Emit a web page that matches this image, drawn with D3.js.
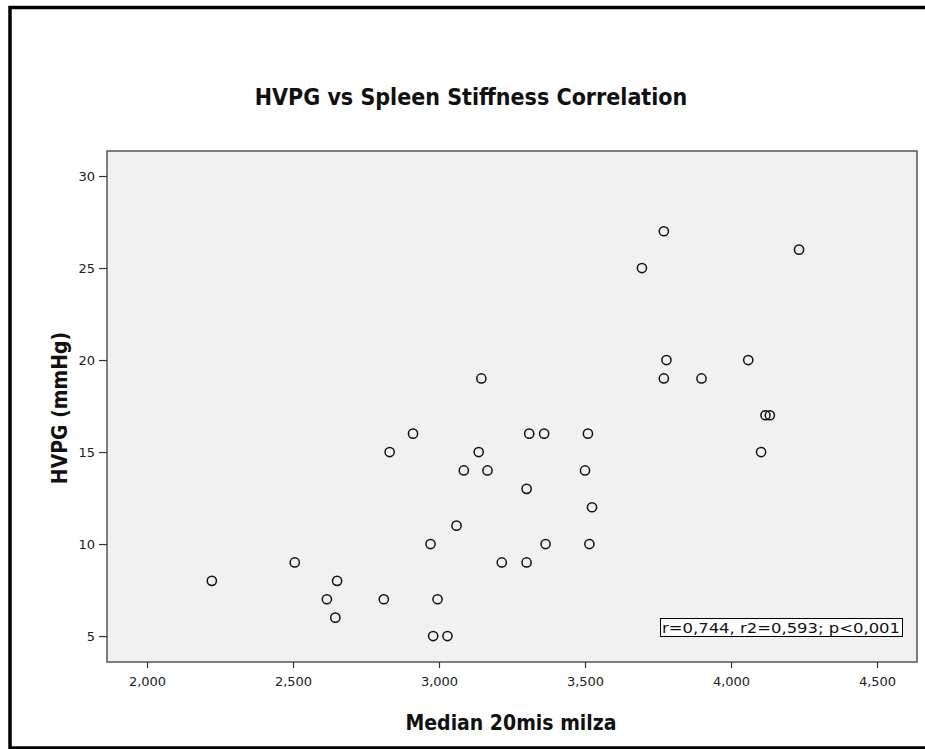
<!DOCTYPE html>
<html>
<head>
<meta charset="utf-8">
<script src="https://cdn.jsdelivr.net/npm/d3@7"></script>
<style>
  html, body { margin: 0; background: #fff; overflow: hidden; }
  svg { display: block; }
</style>
</head>
<body>
<div id="chart"></div>
<script>
// Spleen stiffness (Median 20mis milza) and HVPG (mmHg), one entry per patient
var spleenStiffness = [2222, 2506, 2651, 2616, 2645, 2811, 2831, 2911, 2971, 2995,
    2980, 3029, 3060, 3085, 3136, 3166, 3145, 3215, 3300, 3300,
    3309, 3360, 3365, 3510, 3500, 3524, 3515, 3695, 3770, 3779,
    3770, 3899, 4059, 4118, 4133, 4103, 4233];
var hvpg = [8, 9, 8, 7, 6, 7, 15, 16, 10, 7,
    5, 5, 11, 14, 15, 14, 19, 9, 9, 13,
    16, 16, 10, 16, 14, 12, 10, 25, 27, 20,
    19, 19, 20, 17, 17, 15, 26];

var xTicks = [2000, 2500, 3000, 3500, 4000, 4500];
var yTicks = [5, 10, 15, 20, 25, 30];

var titleText = "HVPG vs Spleen Stiffness Correlation";
var xLabel = "Median 20mis milza";
var yLabel = "HVPG (mmHg)";
var statsText = "r=0,744, r2=0,593; p<0,001";

var chart = {
    w: 925,
    h: 749,
    plot: { left: 107, right: 917, top: 151, bottom: 662 },
    r: 4.6
};

var points = spleenStiffness.map(function (d, i) {
    return { x: d, y: hvpg[i] };
});

var svg = d3.select("#chart")
    .append("svg")
    .attr("width", chart.w)
    .attr("height", chart.h);

// outer frame: left, top and bottom edges only (right edge is cut off)
svg.append("path")
    .attr("d", "M 960 7.5 H 10 V 748 H 960")
    .attr("fill", "none")
    .attr("stroke", "#000")
    .attr("stroke-width", 3.5);

var xScale = d3.scaleLinear()
    .domain([1863, 4637])
    .range([chart.plot.left, chart.plot.right]);

var yScale = d3.scaleLinear()
    .domain([3.59, 31.36])
    .range([chart.plot.bottom, chart.plot.top]);

// plot background
svg.append("rect")
    .attr("x", chart.plot.left)
    .attr("y", chart.plot.top)
    .attr("width", chart.plot.right - chart.plot.left)
    .attr("height", chart.plot.bottom - chart.plot.top)
    .attr("fill", "#f1f1f1")
    .attr("stroke", "#555")
    .attr("stroke-width", 1.5);

var xAxis = d3.axisBottom(xScale)
    .tickValues(xTicks)
    .tickFormat(d3.format(","))
    .tickSize(6)
    .tickSizeOuter(0)
    .tickPadding(9);

var yAxis = d3.axisLeft(yScale)
    .tickValues(yTicks)
    .tickSize(8)
    .tickSizeOuter(0)
    .tickPadding(4);

var gx = svg.append("g")
    .attr("transform", "translate(0," + chart.plot.bottom + ")")
    .call(xAxis);
var gy = svg.append("g")
    .attr("transform", "translate(" + chart.plot.left + ",0)")
    .call(yAxis);

[gx, gy].forEach(function (g) {
    g.select(".domain").remove();
    g.selectAll(".tick line").attr("stroke", "#333").attr("stroke-width", 1.2);
    g.selectAll(".tick text")
        .attr("fill", "#222")
        .style("font-family", "DejaVu Sans")
        .style("font-size", "13px");
});

// points
svg.append("g")
    .selectAll("circle")
    .data(points)
    .enter().append("circle")
    .attr("cx", function (d) { return xScale(d.x); })
    .attr("cy", function (d) { return yScale(d.y); })
    .attr("r", chart.r)
    .attr("fill", "none")
    .attr("stroke", "#111")
    .attr("stroke-width", 1.5);

// stats box
var box = svg.append("g");
box.append("rect")
    .attr("x", 660.5)
    .attr("y", 618.5)
    .attr("width", 242)
    .attr("height", 18)
    .attr("fill", "#fff")
    .attr("stroke", "#000")
    .attr("stroke-width", 1);
box.append("text")
    .attr("x", 662)
    .attr("y", 632.5)
    .attr("textLength", 238)
    .attr("lengthAdjust", "spacingAndGlyphs")
    .style("font-family", "DejaVu Sans")
    .style("font-size", "14px")
    .attr("fill", "#111")
    .text(statsText);

// title and axis labels
svg.append("text")
    .attr("x", 471)
    .attr("y", 105)
    .attr("text-anchor", "middle")
    .style("font-family", "DejaVu Sans Condensed, DejaVu Sans")
    .style("font-weight", "bold")
    .style("font-size", "23px")
    .attr("fill", "#111")
    .text(titleText);

svg.append("text")
    .attr("x", 511)
    .attr("y", 730)
    .attr("text-anchor", "middle")
    .style("font-family", "DejaVu Sans Condensed, DejaVu Sans")
    .style("font-weight", "bold")
    .style("font-size", "21px")
    .attr("fill", "#111")
    .text(xLabel);

svg.append("text")
    .attr("transform", "translate(67,408) rotate(-90)")
    .attr("text-anchor", "middle")
    .style("font-family", "DejaVu Sans Condensed, DejaVu Sans")
    .style("font-weight", "bold")
    .style("font-size", "21px")
    .attr("fill", "#111")
    .text(yLabel);
</script>
</body>
</html>
